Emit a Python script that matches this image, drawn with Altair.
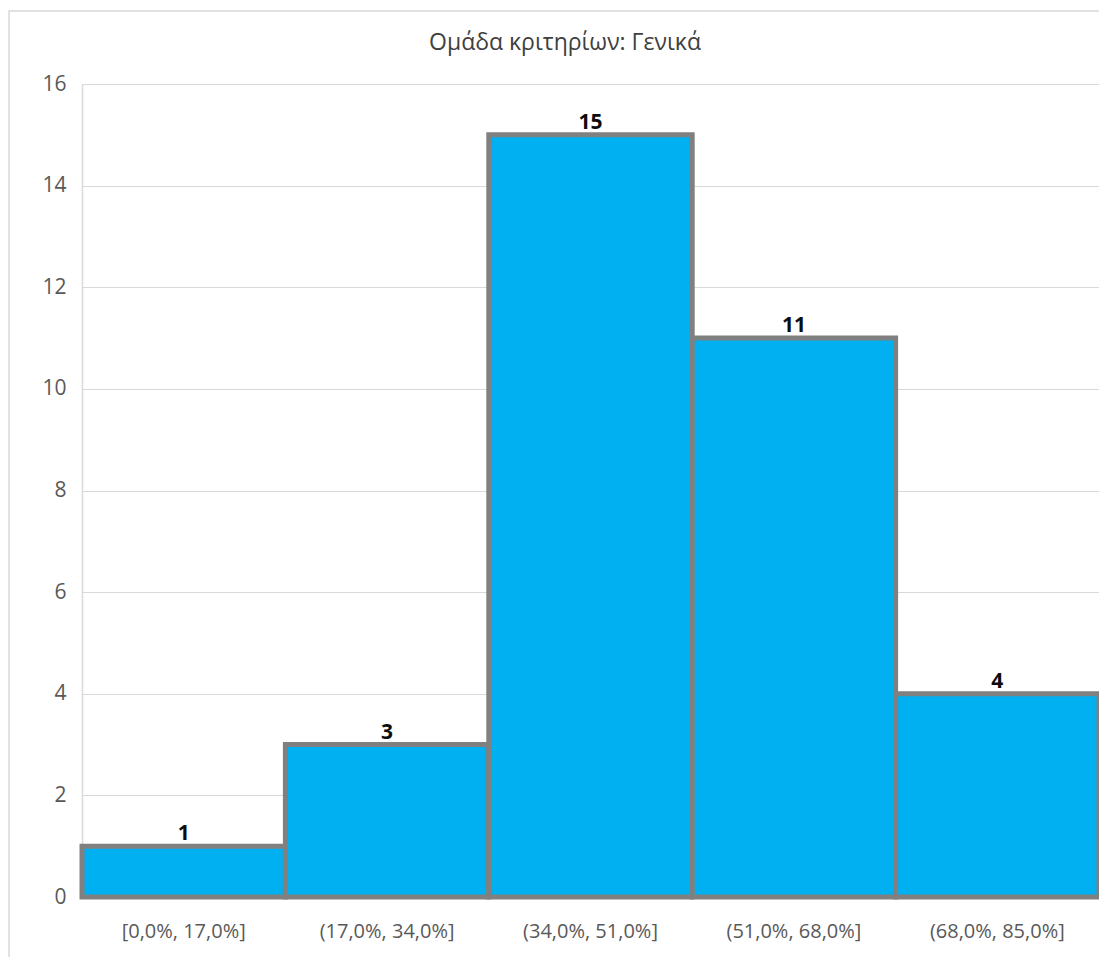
import altair as alt
import pandas as pd

categories = ["[0,0%, 17,0%]", "(17,0%, 34,0%]", "(34,0%, 51,0%]", "(51,0%, 68,0%]", "(68,0%, 85,0%]"]
counts = [1, 3, 15, 11, 4]
y_ticks = [0, 2, 4, 6, 8, 10, 12, 14, 16]
title_text = "Ομάδα κριτηρίων: Γενικά"

df = pd.DataFrame({"bin": categories, "count": counts})
FONT = "Open Sans"

x_enc = alt.X("bin:N", sort=categories, title=None,
              scale=alt.Scale(paddingInner=0, paddingOuter=0),
              axis=alt.Axis(labelAngle=0, labelFontSize=20, labelColor="#595959",
                            labelFont=FONT, labelPadding=24, ticks=False,
                            domainColor="#d9d9d9", domainWidth=1.5, grid=False))
y_enc = alt.Y("count:Q", title=None,
              scale=alt.Scale(domain=[0, 16], nice=False),
              axis=alt.Axis(values=y_ticks, labelFontSize=21, labelColor="#595959",
                            labelFont=FONT, labelPadding=16, ticks=False,
                            domainColor="#d9d9d9", domainWidth=1.5,
                            gridColor="#d9d9d9", gridWidth=1))

one = pd.DataFrame({"t": [title_text]})

frame = alt.Chart(one).mark_rect(
    fill=None, stroke="#d9d9d9", strokeWidth=1.5
).encode(x=alt.value(-73), x2=alt.value(1060), y=alt.value(-73), y2=alt.value(900))

title = alt.Chart(one).mark_text(
    fontSize=23, font=FONT, color="#404040", baseline="middle", align="center"
).encode(x=alt.value(483), y=alt.value(-41), text="t:N")

bars = alt.Chart(df).mark_bar(color="#00B0F0", stroke="#808080", strokeWidth=5,
                              cornerRadius=0).encode(x=x_enc, y=y_enc)

labels = alt.Chart(df).mark_text(dy=-6, baseline="alphabetic", fontWeight="bold",
                                 fontSize=21, font=FONT, color="#0d0d0d").encode(
    x=alt.X("bin:N", sort=categories), y="count:Q", text="count:Q")

chart = alt.layer(frame, title, bars, labels).properties(
    width=1017, height=813,
    autosize=alt.AutoSizeParams(type="none"),
    padding={"left": 74, "top": 76, "right": 0, "bottom": 60},
).configure_view(stroke=None).configure(background="white")

chart.save("out.html", embed_options={"renderer": "svg", "actions": False})
